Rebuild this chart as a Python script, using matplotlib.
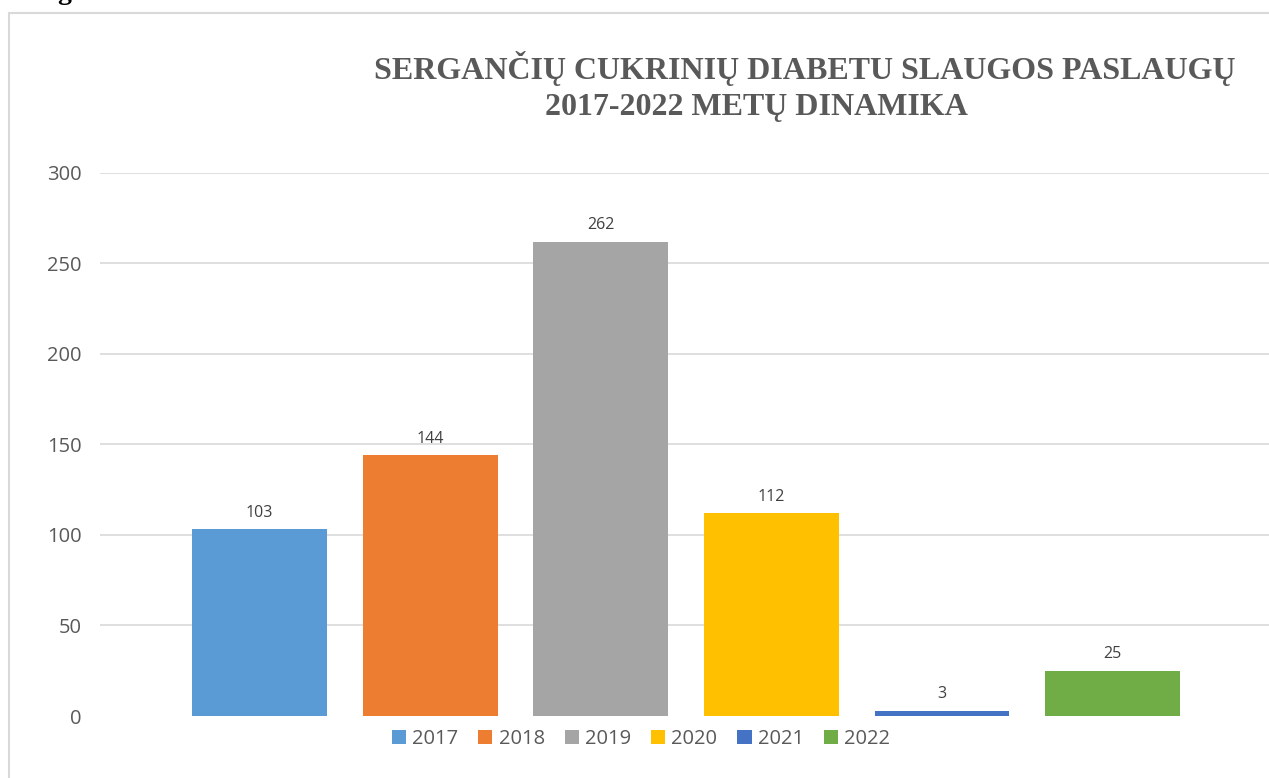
import matplotlib.pyplot as plt
from matplotlib.patches import Rectangle

# --- Data ---
years = ["2017", "2018", "2019", "2020", "2021", "2022"]
values = [103, 144, 262, 112, 3, 25]
colors = ["#5B9BD5", "#ED7D31", "#A5A5A5", "#FFC000", "#4472C4", "#70AD47"]
yticks = [0, 50, 100, 150, 200, 250, 300]

title_line1 = "SERGANČIŲ CUKRINIŲ DIABETU SLAUGOS PASLAUGŲ"
title_line2 = "2017-2022 METŲ DINAMIKA"

W, H = 1269, 778
fig = plt.figure(figsize=(W / 100, H / 100), dpi=100)

# chart frame (light border, cut by the image edges)
fig.patches.append(Rectangle((8.5 / W, -0.05), 1.1, 1 - 12.5 / H + 0.05,
                             transform=fig.transFigure, fill=False,
                             edgecolor="#d9d9d9", linewidth=1.5))

# remnant of caption text above the frame
fig.text(64 / W, 1 + 1 / H, "g", ha="center", va="baseline",
         family="Liberation Serif", fontweight="bold", fontsize=20, color="black")

ax = fig.add_axes([100 / W, 1 - 716 / H, 1 - 100 / W, (716 - 172.7) / H])

x = range(len(years))
bars = ax.bar(x, values, width=0.79, color=colors, zorder=3)
for rect, v, lab in zip(bars, values, years):
    rect.set_label(lab)
    ax.annotate(str(v), (rect.get_x() + rect.get_width() / 2, v),
                xytext=(0, 6), textcoords="offset points",
                ha="center", va="bottom", fontsize=11.5, color="#404040",
                family="Open Sans")

ax.set_xlim(-0.935, 5.917)
ax.set_ylim(0, 300)
ax.set_yticks(yticks)
ax.set_xticks([])
for t in yticks[1:]:
    ax.axhline(t, color="#d9d9d9", linewidth=1.2, zorder=1)
for s in ax.spines.values():
    s.set_visible(False)
ax.tick_params(axis="y", length=0, pad=13, labelsize=14.5, labelcolor="#595959")
for lbl in ax.get_yticklabels():
    lbl.set_family("Open Sans")

# title, two lines
fig.text(805 / W, 1 - 79 / H, title_line1, ha="center", va="baseline",
         family="Liberation Serif", fontweight="bold", fontsize=23, color="#595959")
fig.text(756 / W, 1 - 115 / H, title_line2, ha="center", va="baseline",
         family="Liberation Serif", fontweight="bold", fontsize=23, color="#595959")

fig.legend(handles=list(bars), labels=years, loc="center",
           bbox_to_anchor=(641 / W, 1 - 739 / H), ncol=6, frameon=False,
           handlelength=0.7, handleheight=0.7, handletextpad=0.3,
           columnspacing=1.0, prop={"family": "Open Sans", "size": 14.5},
           labelcolor="#595959")

fig.savefig("out.png", dpi=100)
